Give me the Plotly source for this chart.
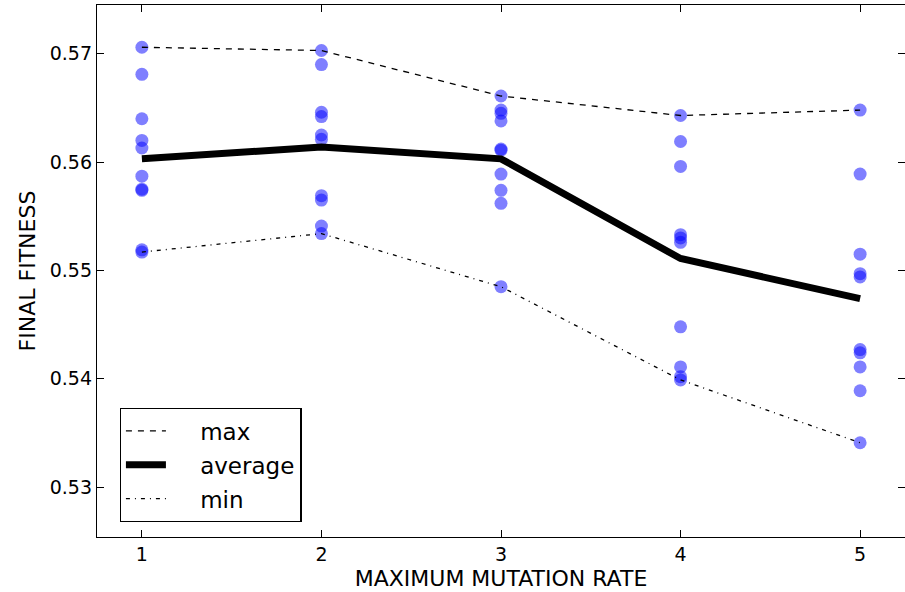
import plotly.graph_objects as go

# Taxas de mutacao e resultados das 10 execucoes em cada uma.
rates = [1, 2, 3, 4, 5]
runs_1 = [0.5706, 0.5681, 0.5640, 0.5620, 0.5613, 0.5587, 0.5575, 0.5574, 0.5519, 0.5517]
runs_2 = [0.5703, 0.5690, 0.5646, 0.5642, 0.5625, 0.5621, 0.5569, 0.5565, 0.5541, 0.5534]
runs_3 = [0.5661, 0.5648, 0.5645, 0.5638, 0.5612, 0.5611, 0.5589, 0.5574, 0.5562, 0.5485]
runs_4 = [0.5643, 0.5619, 0.5596, 0.5533, 0.5530, 0.5526, 0.5448, 0.5411, 0.5402, 0.5399]
runs_5 = [0.5648, 0.5589, 0.5515, 0.5497, 0.5494, 0.5427, 0.5424, 0.5411, 0.5389, 0.5341]

max_fit = [0.5706, 0.5703, 0.5661, 0.5643, 0.5648]
avg_fit = [0.5603, 0.5614, 0.5603, 0.5511, 0.5474]
min_fit = [0.5517, 0.5534, 0.5485, 0.5399, 0.5341]

font = 'DejaVu Sans'
pad = '\u00a0' * 4  # espaco entre a linha e o texto da legenda
fig = go.Figure()

# Pontos de cada execucao.
for rate, runs in zip(rates, [runs_1, runs_2, runs_3, runs_4, runs_5]):
    fig.add_trace(go.Scatter(x=[rate] * len(runs), y=runs, mode='markers',
                             marker=dict(color='rgba(0,0,255,0.5)', size=13,
                                         line=dict(width=0)),
                             showlegend=False, hoverinfo='y'))

fig.add_trace(go.Scatter(x=rates, y=max_fit, mode='lines', name=pad + 'max', legendgroup='a',
                         line=dict(color='black', width=1.3, dash='6px,6px')))
fig.add_trace(go.Scatter(x=rates, y=avg_fit, mode='lines', name=pad + 'average', legendgroup='b',
                         line=dict(color='black', width=7)))
fig.add_trace(go.Scatter(x=rates, y=min_fit, mode='lines', name=pad + 'min', legendgroup='c',
                         line=dict(color='black', width=1.3, dash='4px,5px,1px,5px')))

axis = dict(showgrid=False, zeroline=False, showline=True, linecolor='black',
            linewidth=1.3, mirror='allticks', ticks='inside', ticklen=7,
            tickcolor='black', tickfont=dict(family=font, size=19, color='black'))

fig.update_layout(
    width=905, height=592,
    margin=dict(l=97, r=0, t=5, b=55),
    plot_bgcolor='white', paper_bgcolor='white',
    font=dict(family=font, color='black'),
    xaxis=dict(axis, range=[0.75, 5.25], tickvals=rates,
               title=dict(text='MAXIMUM MUTATION RATE', font=dict(size=22), standoff=6)),
    yaxis=dict(axis, range=[0.5254, 0.5745], tickvals=[0.53, 0.54, 0.55, 0.56, 0.57],
               tickformat='.2f',
               title=dict(text='FINAL FITNESS', font=dict(size=22), standoff=8)),
    legend=dict(x=0.028, y=0.028, xanchor='left', yanchor='bottom',
                bordercolor='black', borderwidth=1.3, bgcolor='white',
                itemwidth=40, tracegroupgap=1,
                font=dict(family=font, size=23)),
)

# Sem a margem padrao do body, a figura fica alinhada com a janela.
fig.write_html('out.html', config={'displayModeBar': False},
               post_script="document.body.style.margin = '0px';")
